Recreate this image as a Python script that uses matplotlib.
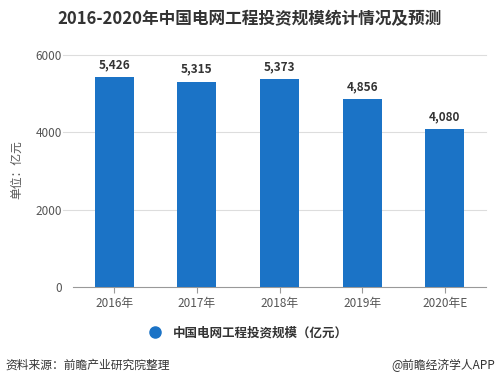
import matplotlib
matplotlib.use("Agg")
import matplotlib.pyplot as plt
from matplotlib.lines import Line2D

plt.rcParams['font.family'] = ['Noto Sans CJK SC', 'DejaVu Sans']

categories = ["2016年", "2017年", "2018年", "2019年", "2020年E"]
values = [5426, 5315, 5373, 4856, 4080]
yticks = [0, 2000, 4000, 6000]
series_name = "中国电网工程投资规模（亿元）"
title = "2016-2020年中国电网工程投资规模统计情况及预测"
ylabel = "单位：亿元"
source = "资料来源：前瞻产业研究院整理"
brand = "@前瞻经济学人APP"

bar_color = "#1b73c6"
text_color = "#333333"
tick_color = "#555555"

fig = plt.figure(figsize=(5.0, 3.88), dpi=100)
ax = fig.add_axes([0.146, 0.2603, 0.826, 0.5979])

x = list(range(len(categories)))
bars = ax.bar(x, values, width=0.47, color=bar_color, zorder=3)
for xi, v in zip(x, values):
    ax.text(xi, v + 150, f"{v:,}", ha="center", va="bottom", fontsize=8.5,
            fontweight="bold", color=text_color)

ax.set_xlim(-0.5, len(categories) - 0.5)
ax.set_ylim(0, 6000)
ax.set_yticks(yticks)
ax.set_yticklabels([str(t) for t in yticks], fontsize=8.5, color=tick_color)
ax.set_xticks(x)
ax.set_xticklabels(categories, fontsize=8.5, color=tick_color)
ax.tick_params(axis="y", length=0, pad=8)
ax.tick_params(axis="x", length=4, color="#999999", pad=3)
for t in yticks[1:]:
    ax.axhline(t, xmin=-0.024, xmax=1, color="#dddddd", linewidth=0.8,
               zorder=0, clip_on=False)
for s in ["top", "right", "left"]:
    ax.spines[s].set_visible(False)
ax.spines["bottom"].set_color("#999999")
ax.spines["bottom"].set_linewidth(0.8)

fig.text(0.034, 0.562, ylabel, rotation=90, ha="center", va="center",
         fontsize=8.5, color=tick_color)

fig.text(0.5, 0.951, title, ha="center", va="center", fontsize=12,
         fontweight="bold", color=text_color)

handle = Line2D([], [], marker="o", linestyle="none", markersize=8,
                markerfacecolor=bar_color, markeredgecolor=bar_color)
fig.legend([handle], [series_name], loc="center", bbox_to_anchor=(0.49, 0.142),
           frameon=False, prop={"size": 9, "weight": "bold"}, labelcolor=text_color,
           handletextpad=0.4)

fig.text(0.01, 0.058, source, ha="left", va="center", fontsize=8.5, color=text_color)
fig.text(0.99, 0.058, brand, ha="right", va="center", fontsize=8.5, color=text_color)

fig.savefig("out.png", dpi=100)
